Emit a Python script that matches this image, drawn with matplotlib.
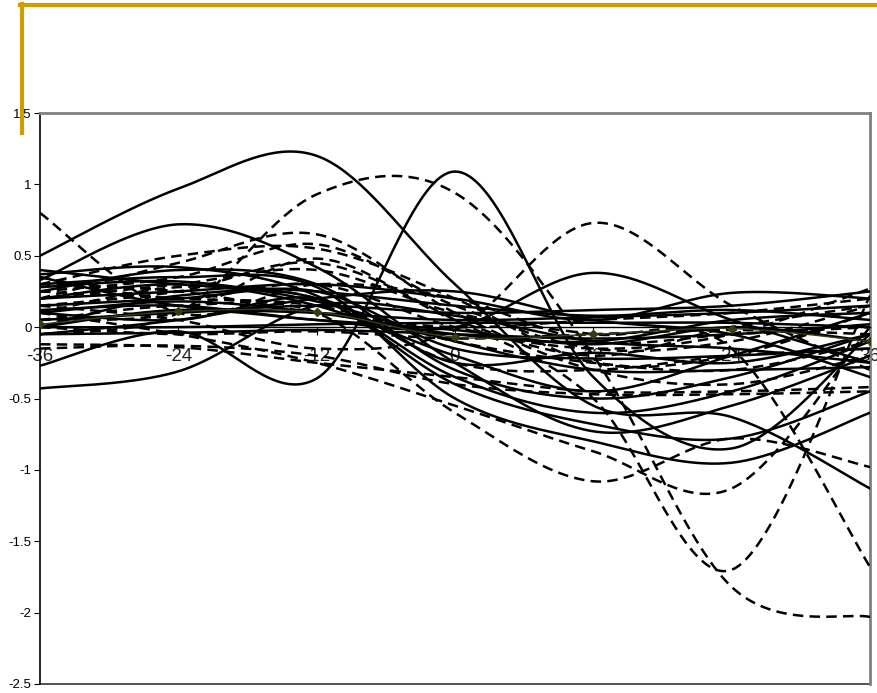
import numpy as np
import matplotlib.pyplot as plt
from matplotlib.lines import Line2D

plt.rcParams['font.family'] = ['Liberation Sans', 'DejaVu Sans']

# months relative to event
months = [-36, -24, -12, 0, 12, 24, 36]

# solid series
s01 = [0.50, 0.97, 1.20, 0.30, -0.55, -0.63, -1.13]
s02 = [-0.27, -0.03, -0.36, 1.09, -0.35, -0.85, -0.05]
s03 = [0.33, 0.72, 0.42, -0.25, -0.73, -0.55, -0.20]
s04 = [0.12, 0.15, 0.05, 0.00, 0.38, 0.05, -0.25]
s05 = [-0.43, -0.31, 0.15, 0.08, -0.10, -0.15, -0.25]
s06 = [0.37, 0.42, 0.22, -0.40, -0.68, -0.78, -0.45]
s07 = [0.25, 0.40, 0.30, -0.30, -0.50, -0.35, -0.05]
s08 = [0.20, 0.25, 0.30, 0.20, 0.05, 0.24, 0.20]
s09 = [0.05, 0.10, 0.15, 0.10, 0.12, 0.15, 0.25]
s10 = [0.00, 0.00, 0.02, 0.03, 0.03, 0.03, 0.00]
s11 = [0.28, 0.32, 0.18, -0.10, -0.30, -0.30, -0.28]
s12 = [0.15, 0.20, 0.25, -0.15, -0.22, -0.20, -0.15]
s13 = [-0.05, 0.05, 0.20, 0.25, 0.05, -0.05, -0.35]
s14 = [0.30, 0.35, 0.28, -0.50, -0.80, -0.95, -0.60]
s15 = [0.10, 0.18, 0.10, -0.05, -0.10, 0.05, 0.10]
s16 = [0.20, 0.30, 0.15, -0.20, -0.45, -0.20, 0.10]
s17 = [0.00, 0.22, 0.20, -0.35, -0.60, -0.45, -0.10]
s18 = [0.35, 0.15, 0.10, 0.05, 0.07, 0.10, 0.15]
s19 = [0.10, 0.05, 0.20, -0.25, -0.18, -0.25, -0.05]
s20 = [0.00, 0.12, 0.05, -0.02, -0.12, 0.00, -0.10]
s21 = [0.40, 0.30, 0.25, 0.15, 0.08, 0.12, 0.05]
s22 = [-0.05, -0.04, -0.02, -0.05, -0.08, -0.05, 0.02]

# dashed series
d01 = [-0.05, 0.10, 0.93, 0.94, -0.20, -1.82, -2.03]
d02 = [0.15, 0.25, 0.45, 0.05, -0.50, -1.70, 0.22]
d03 = [0.10, -0.05, -0.25, -0.55, -0.87, -1.13, 0.00]
d04 = [0.20, 0.30, 0.40, 0.10, -0.05, -0.15, -1.68]
d05 = [0.15, 0.05, -0.15, -0.02, 0.73, 0.15, -0.30]
d06 = [0.80, 0.10, 0.30, 0.20, -0.10, -0.05, 0.00]
d07 = [0.20, 0.45, 0.65, 0.10, -0.30, -0.40, -0.20]
d08 = [0.30, 0.50, 0.55, 0.20, -0.25, -0.20, 0.10]
d09 = [0.25, 0.35, 0.58, 0.15, -0.15, -0.10, 0.15]
d10 = [-0.12, -0.14, -0.25, -0.35, -0.45, -0.45, -0.42]
d11 = [-0.15, -0.13, -0.20, -0.40, -0.47, -0.47, -0.45]
d12 = [0.05, 0.15, 0.10, -0.60, -1.08, -0.78, -0.98]
d13 = [0.35, 0.20, 0.30, 0.00, -0.15, -0.05, 0.27]
d14 = [0.05, 0.10, 0.48, 0.05, -0.20, 0.00, 0.15]
d15 = [0.00, -0.05, -0.03, -0.08, -0.05, -0.02, -0.05]
d16 = [0.25, 0.20, 0.15, -0.10, -0.25, -0.30, -0.10]
d17 = [0.10, 0.28, 0.20, -0.25, -0.30, -0.20, -0.15]
d18 = [0.30, 0.25, 0.10, 0.00, 0.05, 0.10, 0.20]

# average series (olive, with markers)
mean_series = [0.02, 0.11, 0.105, -0.07, -0.05, -0.01, -0.10]

solid = [s01, s02, s03, s04, s05, s06, s07, s08, s09, s10, s11,
         s12, s13, s14, s15, s16, s17, s18, s19, s20, s21, s22]
dashed = [d01, d02, d03, d04, d05, d06, d07, d08, d09, d10, d11,
          d12, d13, d14, d15, d16, d17, d18]

ytick_labels = ['-2.5', '-2', '-1.5', '-1', '-0.5', '0', '0.5', '1', '1.5']


def smooth(x, y, n=40):
    # Excel-like smoothed line: bezier segments through every point
    p = np.column_stack([x, y]).astype(float)
    p = np.vstack([p[0], p, p[-1]])
    t = np.linspace(0, 1, n)[:, None]
    out = []
    for i in range(len(x) - 1):
        a, b, c, d = p[i], p[i + 1], p[i + 2], p[i + 3]
        c1 = b + (c - a) / 6
        c2 = c - (d - b) / 6
        seg = ((1 - t) ** 3 * b + 3 * (1 - t) ** 2 * t * c1
               + 3 * (1 - t) * t ** 2 * c2 + t ** 3 * c)
        out.append(seg if i == 0 else seg[1:])
    out = np.vstack(out)
    return out[:, 0], out[:, 1]


fig = plt.figure(figsize=(8.77, 6.93), dpi=100)
ax = fig.add_axes([40 / 877, 9 / 693, 830 / 877, 571 / 693])

for v in solid:
    xs, ys = smooth(months, v)
    ax.plot(xs, ys, color='black', lw=1.8, zorder=3)
for v in dashed:
    xs, ys = smooth(months, v)
    ax.plot(xs, ys, color='black', lw=1.8, dashes=(4.2, 2.5), zorder=3)

xs, ys = smooth(months, mean_series)
ax.plot(xs, ys, color='#3a3a10', lw=1.0, zorder=4)
ax.plot(months, mean_series, ls='none', marker='D', ms=4,
        color='#3a3a10', zorder=4)

ax.set_xlim(-36, 36)
ax.set_ylim(-2.5, 1.5)
ax.set_xticks(months)
ax.set_xticklabels([str(m) for m in months])
ax.set_yticks(np.arange(-2.5, 1.51, 0.5))
ax.set_yticklabels(ytick_labels)

ax.spines['bottom'].set_position(('data', 0))
ax.spines['bottom'].set_linewidth(1.0)
ax.spines['left'].set_linewidth(1.2)
ax.spines['top'].set_color('#808080')
ax.spines['right'].set_color('#808080')
ax.spines['top'].set_linewidth(2)
ax.spines['right'].set_linewidth(2)
ax.tick_params(axis='x', direction='out', length=6, pad=9,
               labelsize=13.5, labelcolor='#222222')
ax.tick_params(axis='y', direction='out', length=4, pad=2, labelsize=9.5)
ax.add_line(Line2D([0, 1], [0, 0], transform=ax.transAxes, color='#333333',
                   lw=1.2, clip_on=False))

# gold slide frame
gold = '#D09C00'
fig.add_artist(Line2D([20 / 877, 1], [1 - 5 / 693, 1 - 5 / 693],
                      transform=fig.transFigure, color=gold, lw=3))
fig.add_artist(Line2D([22 / 877, 22 / 877], [1 - 4 / 693, 1 - 133 / 693],
                      transform=fig.transFigure, color=gold, lw=3))

fig.savefig('out.png', dpi=100)
